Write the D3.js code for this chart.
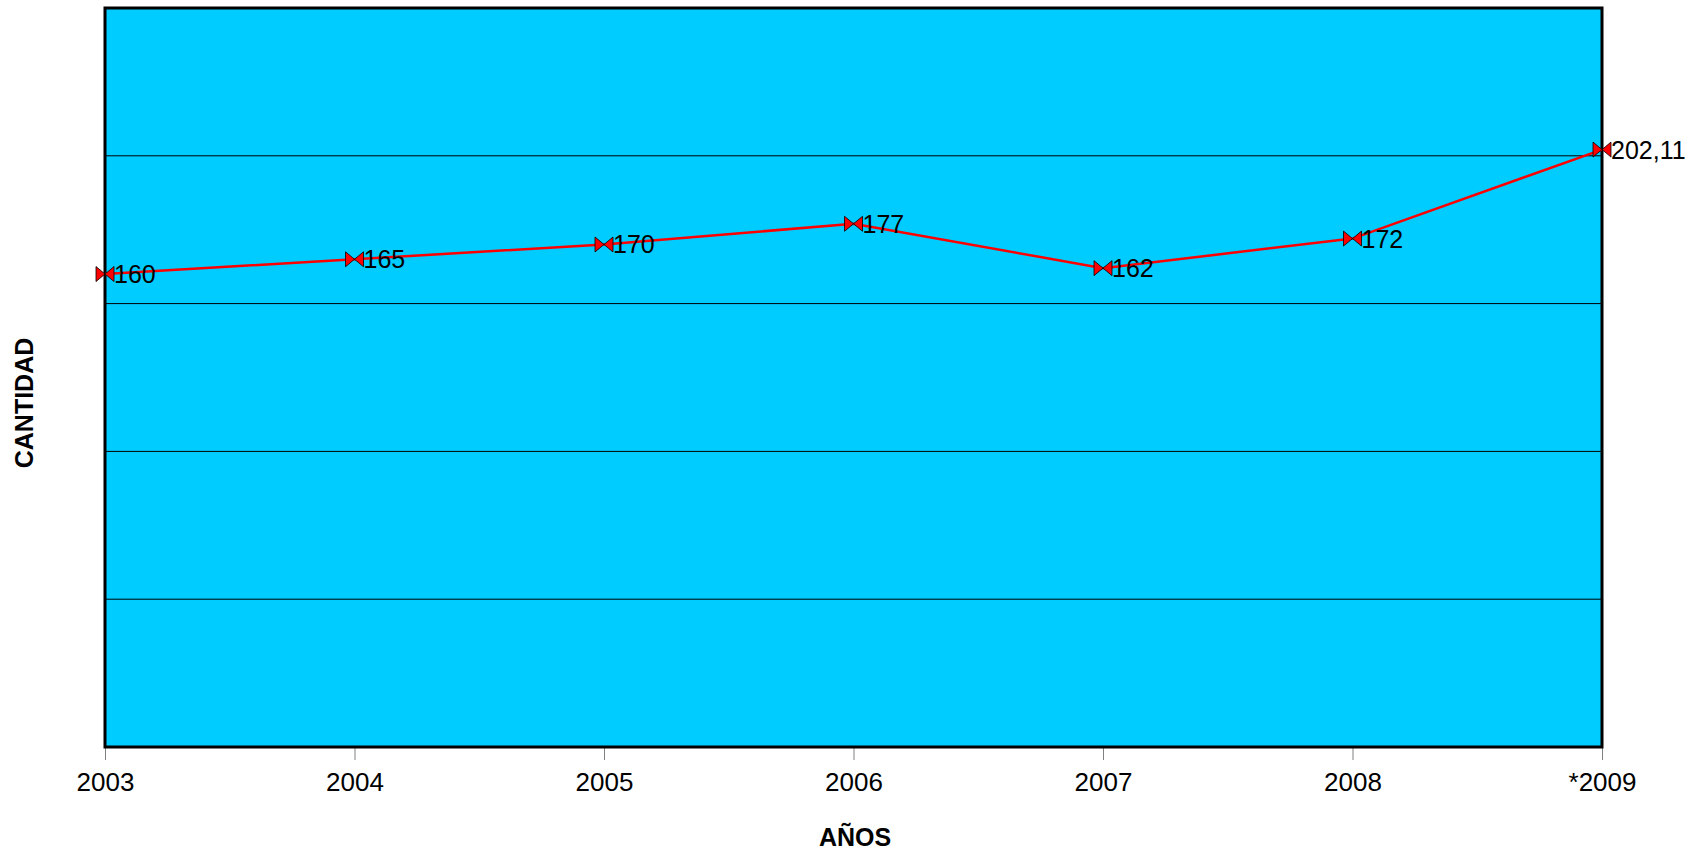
<!DOCTYPE html>
<html>
<head>
<meta charset="utf-8">
<script src="https://cdn.jsdelivr.net/npm/d3@7"></script>
<style>
  html, body { margin: 0; padding: 0; background: #ffffff; }
  svg { display: block; font-family: "Liberation Sans", Arial, sans-serif; }
</style>
</head>
<body>
<svg id="chart" width="1697" height="853"></svg>
<script>
const categories = ["2003", "2004", "2005", "2006", "2007", "2008", "*2009"];
const values = [160, 165, 170, 177, 162, 172, 202.11];
const valueLabels = ["160", "165", "170", "177", "162", "172", "202,11"];
const gridValues = [50, 100, 150, 200];
const yDomain = [0, 250];

const W = 1697, H = 853;
const margin = { left: 105, right: 95, top: 8, bottom: 106 };
const svg = d3.select("#chart");
const x = d3.scalePoint().domain(categories).range([margin.left, W - margin.right]).padding(0);
const y = d3.scaleLinear().domain(yDomain).range([H - margin.bottom, margin.top]);

// plot background
svg.append("rect")
  .attr("x", margin.left).attr("y", margin.top)
  .attr("width", W - margin.right - margin.left)
  .attr("height", H - margin.bottom - margin.top)
  .attr("fill", "#00CCFF");

// gridlines
svg.append("g").selectAll("line").data(gridValues).join("line")
  .attr("x1", margin.left).attr("x2", W - margin.right)
  .attr("y1", d => y(d)).attr("y2", d => y(d))
  .attr("stroke", "#000").attr("stroke-width", 1);

// x axis ticks and labels
const xAxis = d3.axisBottom(x).tickSize(13).tickPadding(13);
const gx = svg.append("g").attr("transform", `translate(0,${H - margin.bottom})`).call(xAxis);
gx.select(".domain").remove();
gx.selectAll(".tick line").attr("stroke", "#808080").attr("stroke-width", 1);
gx.selectAll(".tick text").attr("font-size", 26).attr("fill", "#000")
  .attr("font-family", "Liberation Sans, Arial, sans-serif");

// border
svg.append("rect")
  .attr("x", margin.left).attr("y", margin.top)
  .attr("width", W - margin.right - margin.left)
  .attr("height", H - margin.bottom - margin.top)
  .attr("fill", "none").attr("stroke", "#000").attr("stroke-width", 3);

// line
const line = d3.line().x((d, i) => x(categories[i])).y(d => y(d));
svg.append("path").datum(values)
  .attr("d", line).attr("fill", "none")
  .attr("stroke", "#FF0000").attr("stroke-width", 2.5);

// bowtie markers
const mw = 9, mh = 7.5;
svg.append("g").selectAll("path").data(values).join("path")
  .attr("transform", (d, i) => `translate(${x(categories[i])},${y(d)})`)
  .attr("d", `M${-mw},${-mh} L0,0 L${-mw},${mh} Z M${mw},${-mh} L0,0 L${mw},${mh} Z`)
  .attr("fill", "#FF0000").attr("stroke", "#000").attr("stroke-width", 0.8)
  .attr("stroke-linejoin", "miter");

// data labels
svg.append("g").selectAll("text").data(values).join("text")
  .attr("x", (d, i) => x(categories[i]) + 9)
  .attr("y", d => y(d) + 9)
  .attr("font-size", 25).attr("fill", "#000")
  .text((d, i) => valueLabels[i]);

// axis titles
svg.append("text")
  .attr("x", 855).attr("y", 846)
  .attr("text-anchor", "middle")
  .attr("font-size", 25).attr("font-weight", "bold")
  .text("AÑOS");

svg.append("text")
  .attr("transform", "translate(33,403) rotate(-90)")
  .attr("text-anchor", "middle")
  .attr("font-size", 25).attr("font-weight", "bold")
  .text("CANTIDAD");
</script>
</body>
</html>
